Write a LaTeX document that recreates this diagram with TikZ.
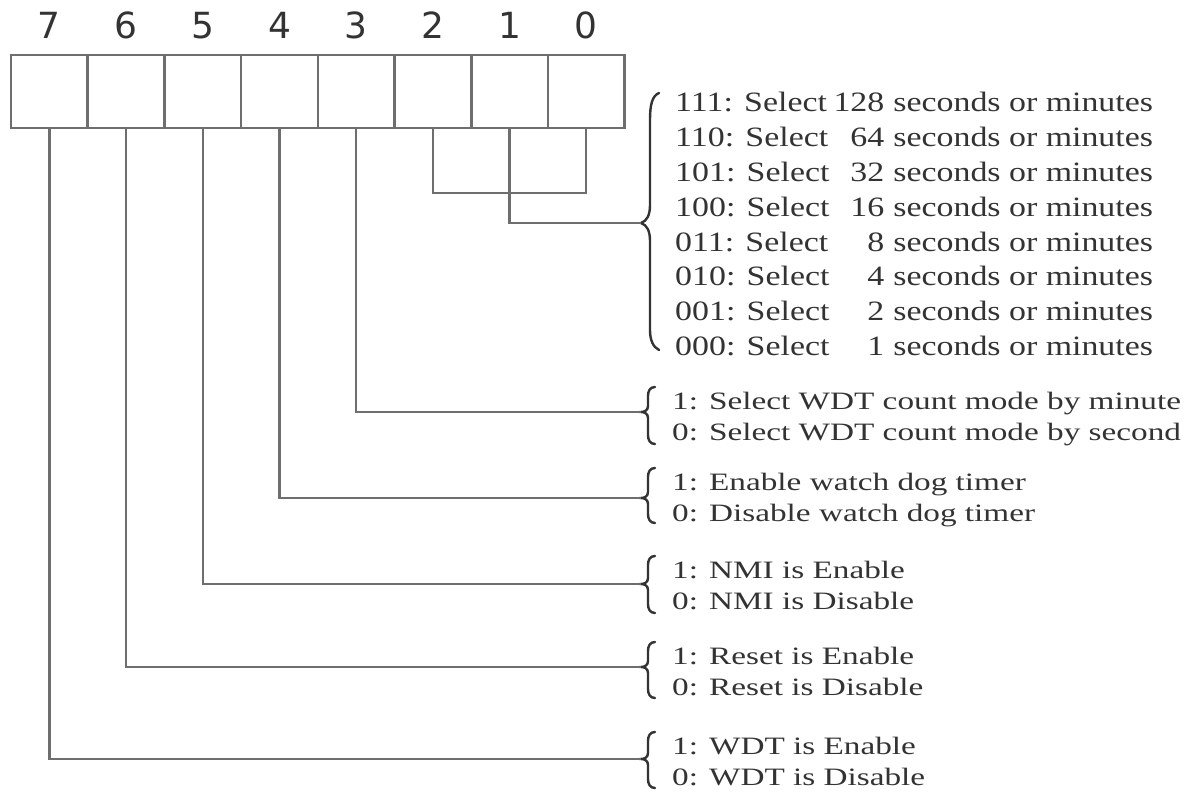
\documentclass[tikz,border=0pt]{standalone}
\usepackage{fontspec}
\setmainfont{Liberation Serif}
\newfontfamily\bigfont[FakeStretch=1.21]{Liberation Serif}
\newfontfamily\smallfont[FakeStretch=1.33]{Liberation Serif}
\newfontfamily\digitfont{DejaVu Sans}
\definecolor{linegray}{HTML}{6E6E6E}
\definecolor{textgray}{HTML}{333333}
\newcommand\sbrace[4]{% name, top, tip, bottom
  \draw[bracestyle] (655,#2) .. controls (650,#2) and (648,#2+4) .. (648,#2+9)
    -- (648,#3-6) .. controls (648,#3-2) and (645,#3) .. (641,#3) coordinate (#1)
    .. controls (645,#3) and (648,#3+2) .. (648,#3+6)
    -- (648,#4-9) .. controls (648,#4-4) and (650,#4) .. (655,#4);}
\begin{document}
\begin{tikzpicture}[x=1pt,y=-1pt,
  bitbox/.style={draw=linegray,line width=2.6pt,minimum width=76.7pt,minimum height=73pt,inner sep=0pt,outer sep=0pt},
  digit/.style={font=\digitfont\fontsize{36}{40}\selectfont,text=textgray,inner sep=0pt},
  conn/.style={draw=linegray,line width=2.4pt},
  bracestyle/.style={draw=textgray,line width=2.4pt,line cap=round},
  grp/.style={anchor=base west,inner sep=0pt,text=textgray,font=\smallfont\fontsize{25}{31}\selectfont},
  biggrp/.style={anchor=base west,inner sep=0pt,text=textgray,font=\bigfont\fontsize{28}{34.9}\selectfont}]
\useasboundingbox (0,0) rectangle (1195,794);
% register boxes
\foreach \i in {0,...,7}{
  \pgfmathsetmacro\cx{11+76.7*(7-\i)+38.35}
  \node[bitbox] (b\i) at (\cx,91.5) {};
  \node[digit] (d\i) at (\cx,25.5) {\i};
}
% braces
\draw[bracestyle] (659,93) .. controls (652,96) and (650,105) .. (650,120)
  -- (650,205) .. controls (650,215) and (647,221) .. (641,223) coordinate (t1)
  .. controls (647,225) and (650,231) .. (650,241)
  -- (650,330) .. controls (650,340) and (653,347) .. (659,350);
\sbrace{t3}{387}{412}{444}
\sbrace{t4}{468}{498}{523}
\sbrace{t5}{556}{584}{613}
\sbrace{t6}{642}{667}{698}
\sbrace{t7}{732}{759}{788}
% connectors
\draw[conn] (b2.south) -- ++(0,65) -| (b0.south);
\draw[conn] (b1.south) |- (t1);
\draw[conn] (b3.south) |- (t3);
\draw[conn] (b4.south) |- (t4);
\draw[conn] (b5.south) |- (t5);
\draw[conn] (b6.south) |- (t6);
\draw[conn] (b7.south) |- (t7);
% texts
\node[biggrp] (g1) at (675,111.5) {\begin{tabular}[t]{@{}l@{\hspace{4pt}}r@{\hspace{9pt}}l@{}}
111: Select & 128 & seconds or minutes\\
110: Select & 64 & seconds or minutes\\
101: Select & 32 & seconds or minutes\\
100: Select & 16 & seconds or minutes\\
011: Select & 8 & seconds or minutes\\
010: Select & 4 & seconds or minutes\\
001: Select & 2 & seconds or minutes\\
000: Select & 1 & seconds or minutes
\end{tabular}};
\node[grp] (g3) at (672,409.5) {\begin{tabular}[t]{@{}l@{}}1: Select WDT count mode by minute\\0: Select WDT count mode by second\end{tabular}};
\node[grp] (g4) at (672,490.5) {\begin{tabular}[t]{@{}l@{}}1: Enable watch dog timer\\0: Disable watch dog timer\end{tabular}};
\node[grp] (g5) at (672,578.5) {\begin{tabular}[t]{@{}l@{}}1: NMI is Enable\\0: NMI is Disable\end{tabular}};
\node[grp] (g6) at (672,664.5) {\begin{tabular}[t]{@{}l@{}}1: Reset is Enable\\0: Reset is Disable\end{tabular}};
\node[grp] (g7) at (672,754.5) {\begin{tabular}[t]{@{}l@{}}1: WDT is Enable\\0: WDT is Disable\end{tabular}};
\end{tikzpicture}
\end{document}
